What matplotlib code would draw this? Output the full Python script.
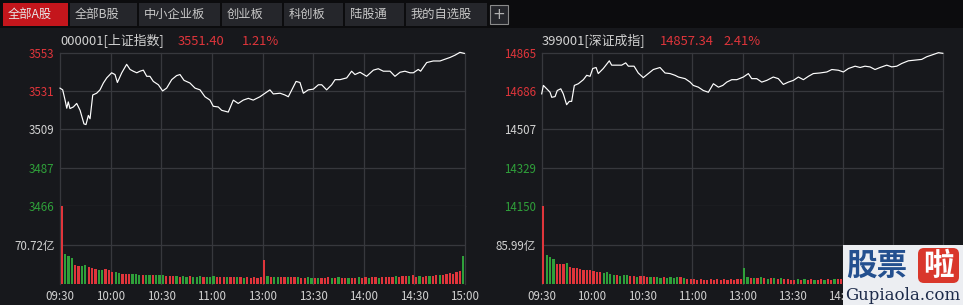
import numpy as np
import matplotlib.pyplot as plt
from matplotlib.patches import Rectangle, FancyBboxPatch

plt.rcParams['font.family'] = ['Noto Sans CJK SC', 'DejaVu Sans']

# ---- data ----
tabs = ['全部A股', '全部B股', '中小企业板', '创业板', '科创板', '陆股通', '我的自选股']

time_ticks = [0, 30, 60, 90, 120, 150, 180, 210, 240]
time_labels = ['09:30', '10:00', '10:30', '11:00', '13:00', '13:30', '14:00', '14:30', '15:00']

# 上证指数 (minutes after 09:30, index value)
sh_min = [0, 1.6, 3.0, 4.0, 4.9, 5.9, 7.9, 9.9, 11.9, 14.2, 15.4, 16.8, 17.8, 19.4, 21.7,
          23.7, 25.7, 27.7, 30.6, 32.6, 34.0, 36.6, 39.5, 41.5, 43.4, 45.5, 47.4, 49.4,
          51.4, 53.3, 55.3, 58.3, 60.8, 63.2, 66.2, 69.1, 71.1, 73.5, 77.0, 80.0, 83.0,
          85.9, 88.9, 90.8, 93.8, 95.8, 99.7, 102.7, 105.6, 108.6, 111.6, 114.5, 118.5,
          121.5, 124.4, 126.4, 130.4, 133.3, 135.3, 137.9, 139.9, 142.2, 144.2, 147.1,
          150.1, 153.1, 155.1, 158.0, 161.0, 163.0, 165.9, 169.9, 172.8, 174.8, 177.8,
          181.7, 185.7, 188.6, 191.6, 195.6, 198.5, 201.5, 204.4, 207.4, 209.4, 212.3,
          213.7, 217.3, 221.2, 225.2, 228.1, 231.1, 234.1, 237.0, 239.6]
sh_price = [3532.4, 3531.4, 3525.6, 3521.0, 3524.6, 3520.8, 3521.7, 3523.7, 3519.8, 3512.1,
            3511.7, 3516.9, 3515.0, 3528.5, 3529.5, 3531.4, 3535.3, 3538.2, 3541.1, 3540.1,
            3535.6, 3541.1, 3545.9, 3543.0, 3542.0, 3541.1, 3542.0, 3542.6, 3539.1, 3539.1,
            3536.2, 3534.3, 3530.8, 3532.4, 3537.2, 3539.5, 3540.1, 3536.8, 3535.3, 3532.4,
            3531.4, 3527.5, 3525.6, 3522.1, 3521.7, 3519.8, 3518.8, 3525.6, 3523.7, 3525.6,
            3526.6, 3525.6, 3527.5, 3529.5, 3531.4, 3529.1, 3529.5, 3528.5, 3527.5, 3532.4,
            3536.2, 3535.6, 3529.5, 3531.4, 3531.8, 3534.3, 3534.3, 3531.4, 3534.3, 3537.2,
            3537.2, 3538.2, 3542.0, 3540.1, 3541.4, 3539.1, 3542.6, 3543.4, 3542.0, 3542.0,
            3539.1, 3541.4, 3542.0, 3541.1, 3541.1, 3543.0, 3542.0, 3546.9, 3547.8, 3547.8,
            3548.8, 3549.8, 3551.1, 3552.7, 3552.1]

# 深证成指
sz_min = [0, 1.0, 3.0, 5.0, 6.0, 8.0, 9.3, 11.4, 12.9, 14.9, 16.5, 17.9, 19.5, 21.9, 24.9,
          26.9, 28.9, 30.5, 32.5, 33.8, 36.8, 40.4, 41.8, 44.8, 47.8, 50.2, 51.8, 55.2,
          57.7, 60.7, 63.7, 66.7, 70.7, 73.7, 76.7, 79.7, 81.7, 85.7, 88.7, 90.6, 93.6,
          96.6, 99.6, 102.6, 105.6, 108.2, 110.6, 113.6, 116.6, 120.5, 123.5, 125.5, 128.5,
          131.5, 134.5, 138.4, 141.4, 144.4, 147.4, 150.4, 153.4, 156.4, 159.4, 162.3,
          166.3, 170.4, 173.4, 177.3, 180.3, 183.3, 187.3, 190.3, 193.2, 196.2, 199.2,
          202.2, 206.2, 209.2, 212.2, 215.2, 219.1, 223.1, 227.1, 230.1, 233.1, 237.1, 239.7]
sz_price = [14672.8, 14712.1, 14696.4, 14680.3, 14656.7, 14660.0, 14688.4, 14696.4, 14672.8,
            14622.1, 14637.7, 14637.7, 14712.1, 14720.1, 14739.0, 14759.4, 14754.7, 14791.1,
            14795.9, 14767.5, 14791.1, 14827.1, 14806.8, 14806.8, 14806.8, 14817.6, 14802.0,
            14802.0, 14770.3, 14748.5, 14767.5, 14786.4, 14795.9, 14770.3, 14767.5, 14759.4,
            14751.4, 14743.8, 14727.7, 14712.1, 14704.0, 14688.4, 14680.3, 14720.1, 14704.0,
            14712.1, 14727.7, 14739.0, 14739.0, 14751.4, 14767.5, 14743.8, 14743.8, 14727.7,
            14735.7, 14751.4, 14743.8, 14716.8, 14727.7, 14735.7, 14751.4, 14739.0, 14754.7,
            14767.5, 14770.3, 14775.0, 14786.4, 14783.1, 14775.0, 14791.1, 14802.0, 14795.9,
            14802.0, 14798.7, 14786.4, 14795.9, 14806.8, 14798.7, 14802.0, 14814.8, 14827.1,
            14830.4, 14833.7, 14846.1, 14854.1, 14865.0, 14862.2]

# volume (亿), one bar per two minutes, r = up, g = down
sh_vol = [141.4, 55, 50, 48, 35, 33, 32, 35, 30, 29,
          27, 26, 25, 27, 25, 22, 21, 20, 19, 19,
          18, 19, 18, 17, 17, 16, 17, 16, 17, 16,
          17, 15, 15, 14, 15, 13, 14, 13, 14, 13,
          13, 14, 13, 12, 13, 14, 12, 13, 12, 13,
          12, 12, 13, 12, 11, 12, 11, 12, 11, 13,
          43, 14, 13, 12, 13, 12, 13, 12, 12, 13,
          12, 11, 11, 12, 11, 10, 11, 10, 11, 12,
          11, 11, 12, 11, 11, 10, 11, 11, 12, 11,
          12, 11, 12, 12, 11, 12, 13, 12, 13, 14,
          13, 14, 15, 14, 16, 13, 14, 13, 15, 14,
          15, 16, 17, 16, 18, 20, 19, 22, 24, 51]
sh_dir = ('rgggrrggrr' 'rggrrrggrr' 'rgggrggrgg' 'grrrgrggrg' 'ggrgggrrrg'
          'rrgrgrrrrr' 'rgrggrrgrr' 'grrggrgrrr' 'grgrrgrrgr' 'rgrrgrrrrg'
          'rrrgrrgrrg' 'rrgrrrrrrg')

sz_vol = [172, 65, 60, 55, 45, 44, 45, 47, 38, 36,
          35, 34, 31, 30, 30, 29, 27, 26, 24, 26,
          22, 20, 19, 18, 19, 20, 18, 17, 16, 18,
          17, 16, 15, 16, 15, 14, 15, 14, 15, 14,
          16, 15, 14, 11, 10, 10, 9, 10, 9, 9,
          10, 9, 10, 9, 10, 9, 10, 9, 10, 11,
          35, 15, 14, 13, 14, 15, 13, 12, 13, 14,
          12, 13, 11, 10, 9, 9, 10, 9, 10, 9,
          10, 9, 9, 10, 9, 10, 9, 10, 11, 10,
          11, 10, 10, 11, 10, 11, 12, 11, 12, 11,
          12, 13, 12, 13, 14, 13, 15, 14, 16, 17,
          16, 18, 20, 21, 22, 24, 26, 28, 30, 55]
sz_dir = ('rgggrrrgrr' 'rrrrrrrrgg' 'ggrgggrrgr' 'rrgrggrggg' 'grgrrrrrrr'
          'rrrrrrrrrr' 'ggrgrgrgrg' 'rgrrrrgrgr' 'rgrrgrrgrr' 'rgrgrrgrgr'
          'rgrrgrgrrr' 'rrgrrrrrrg')

panels = [
    dict(code='000001[上证指数]', last='3551.40', pct='1.21%',
         mins=sh_min, price=sh_price, lo=3465.5, hi=3552.5,
         plabels=['3466', '3487', '3509', '3531', '3553'],
         vol=sh_vol, vdir=sh_dir, vlabel='70.72亿', x0=60, x1=465),
    dict(code='399001[深证成指]', last='14857.34', pct='2.41%',
         mins=sz_min, price=sz_price, lo=14149, hi=14865,
         plabels=['14150', '14329', '14507', '14686', '14865'],
         vol=sz_vol, vdir=sz_dir, vlabel='85.99亿', x0=541.7, x1=943.3),
]

# ---- style ----
BG = '#17181c'
GRID = '#37383d'
RED = '#e0353b'
GREEN = '#2fa03a'
TXT = '#d2d2d2'
W, H = 963, 305

fig = plt.figure(figsize=(W / 100, H / 100), dpi=100, facecolor=BG)


def fx(x):
    return x / W


def fy(y):
    return 1 - y / H


# tab bar
fig.patches.append(Rectangle((0, fy(28)), 1, 28 / H, transform=fig.transFigure,
                             facecolor='#0c0c0e', edgecolor='none'))
tab_px = [(3, 68), (70, 137), (139, 220), (222, 282), (284, 343), (345, 404), (406, 487)]
for i, (name, (a, b)) in enumerate(zip(tabs, tab_px)):
    fc = '#c4161c' if i == 0 else '#25262b'
    fig.patches.append(Rectangle((fx(a), fy(26)), (b - a) / W, 23 / H,
                                 transform=fig.transFigure, facecolor=fc, edgecolor='none'))
    fig.text(fx(a + 5), fy(14.5), name, color='#e6e6e6' if i == 0 else '#c8c8c8',
             fontsize=8.8, va='center', ha='left')
fig.patches.append(Rectangle((fx(490), fy(24)), 18 / W, 19 / H, transform=fig.transFigure,
                             facecolor='#25262b', edgecolor='#8a8a8a', linewidth=0.8))
fig.text(fx(499), fy(14.5), '+', color='#b0b0b0', fontsize=11, ha='center', va='center',
         family='DejaVu Sans')

for p in panels:
    x0, x1 = p['x0'], p['x1']
    axp = fig.add_axes([fx(x0), fy(206), (x1 - x0) / W, (206 - 52.7) / H])
    axv = fig.add_axes([fx(x0), fy(284), (x1 - x0) / W, (284 - 206) / H])
    for ax in (axp, axv):
        ax.set_facecolor(BG)
        for s in ax.spines.values():
            s.set_visible(False)
        ax.set_xlim(0, 240)
        for t in time_ticks:
            ax.axvline(t, color=GRID, lw=0.9, zorder=0, clip_on=False)

    # price
    pticks = np.linspace(p['lo'], p['hi'], 5)
    axp.set_ylim(p['lo'], p['hi'])
    for t in pticks:
        axp.axhline(t, color=GRID, lw=0.9, zorder=0, clip_on=False)
    axp.plot(p['mins'], p['price'], color='white', lw=0.85, clip_on=False)
    axp.set_yticks(pticks, p['plabels'])
    axp.set_xticks([])
    axp.tick_params(axis='y', length=0, pad=4, labelsize=8.3)
    cols = [GREEN, GREEN, TXT, RED, RED]
    for lab, c in zip(axp.get_yticklabels(), cols):
        lab.set_color(c)

    # volume
    vmax = p['vol'][0]
    xs = np.arange(len(p['vol'])) * 2 + 1
    colors = [RED if d == 'r' else GREEN for d in p['vdir']]
    axv.bar(xs, p['vol'], width=1.3, color=colors, linewidth=0)
    axv.set_ylim(0, vmax)
    axv.axhline(vmax / 2, color=GRID, lw=0.9, zorder=0)
    axv.set_yticks([vmax / 2], [p['vlabel']])
    axv.tick_params(axis='y', length=0, pad=4, labelsize=8.3, labelcolor=TXT)
    axv.set_xticks(time_ticks, time_labels)
    axv.tick_params(axis='x', length=0, pad=4, labelsize=8.3, labelcolor=TXT)

    # header
    fig.text(fx(x0), fy(41.5), p['code'], color=TXT, fontsize=9.3, va='center')
    fig.text(fx(x0 + 118), fy(41.5), p['last'], color=RED, fontsize=9.3, va='center')
    fig.text(fx(x0 + 182), fy(41.5), p['pct'], color=RED, fontsize=9.3, va='center')

# watermark, in its own axes so it sits on top of the right panel
axw = fig.add_axes([fx(843), 0, 120 / W, 60 / H])
axw.set_xlim(0, 120)
axw.set_ylim(60, 0)
axw.set_facecolor('#eceef2')
axw.set_xticks([])
axw.set_yticks([])
for s in axw.spines.values():
    s.set_visible(False)
axw.text(3, 21, '股票', color='#24508f', fontsize=22, fontweight='bold',
         va='center', ha='left')
axw.add_patch(FancyBboxPatch((75, 3), 41, 35, boxstyle='round,pad=0,rounding_size=6',
                             facecolor='#d9372b', edgecolor='none'))
axw.text(95.5, 21, '啦', color='white', fontsize=22, fontweight='bold',
         va='center', ha='center')
axw.text(60, 51, 'Gupiaola.com', color='#1d2b4a', fontsize=12,
         family='DejaVu Serif', va='center', ha='center')

fig.savefig('out.png', dpi=100, facecolor=BG)
